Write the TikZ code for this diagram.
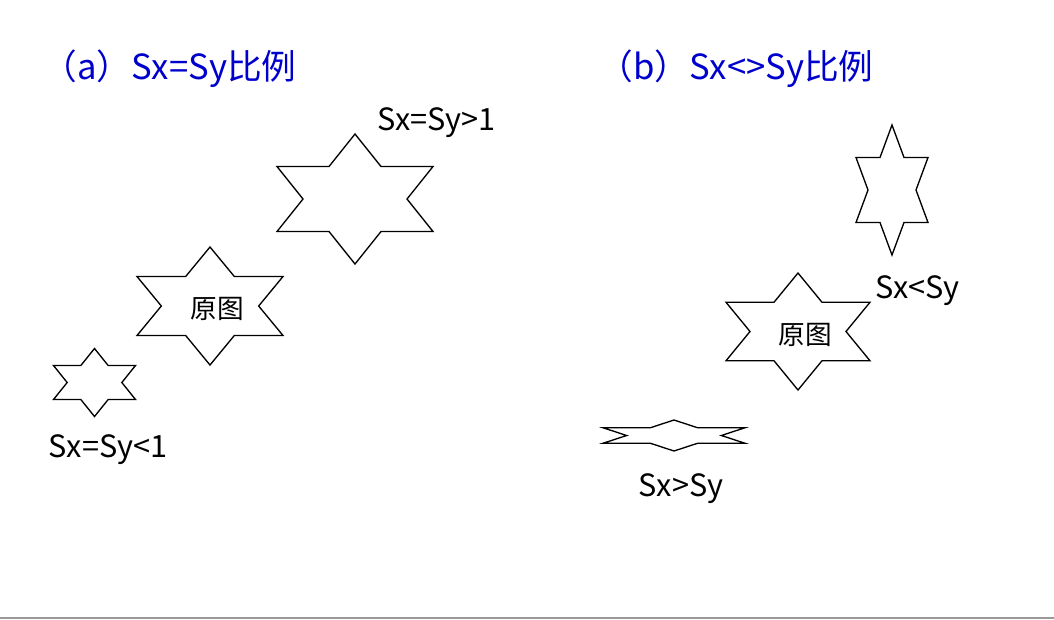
\documentclass[tikz,border=0pt]{standalone}
\usepackage{fontspec}
\setmainfont{Noto Sans CJK SC}
\definecolor{titleblue}{RGB}{0,0,204}
\tikzset{
  starline/.style={draw=black, line width=1pt, line join=miter},
  titletext/.style={text=titleblue, font=\fontsize{26}{30}\selectfont, inner sep=0pt, anchor=base},
  scaletext/.style={font=\fontsize{23}{27}\selectfont, inner sep=0pt, anchor=base},
  origtext/.style={font=\fontsize{20}{24}\selectfont, inner sep=0pt}
}
\begin{document}
\begin{tikzpicture}[x=0.75pt,y=-0.75pt]
\useasboundingbox (0,0) rectangle (1054,619);
\fill[black!40] (0,616.5) rectangle (1054,619);
\node[titletext] (titleA) at (169.5,79) {（a）Sx=Sy比例};
\node[titletext] (titleB) at (736,79) {（b）Sx<>Sy比例};
\foreach \cx/\cy/\a/\b in {94.5/382.5/41/34, 210/306/73/59, 355/199/78/65, 798/331.5/72/58.5, 892/190/36/65, 674/435.5/71/15.5}
  \draw[starline] (\cx,{\cy-\b}) -- ({\cx+\a/3},{\cy-\b/2}) -- ({\cx+\a},{\cy-\b/2}) -- ({\cx+2*\a/3},\cy) -- ({\cx+\a},{\cy+\b/2}) -- ({\cx+\a/3},{\cy+\b/2}) -- (\cx,{\cy+\b}) -- ({\cx-\a/3},{\cy+\b/2}) -- ({\cx-\a},{\cy+\b/2}) -- ({\cx-2*\a/3},\cy) -- ({\cx-\a},{\cy-\b/2}) -- ({\cx-\a/3},{\cy-\b/2}) -- cycle;
\node[origtext] (origA) at (217,309) {原图};
\node[origtext] (origB) at (805,335) {原图};
\node[scaletext] (bigA) at (436.5,130) {Sx=Sy>1};
\node[scaletext] (smallA) at (108,457) {Sx=Sy<1};
\node[scaletext] (tallB) at (917.5,298) {Sx<Sy};
\node[scaletext] (flatB) at (681,496) {Sx>Sy};
\end{tikzpicture}
\end{document}
